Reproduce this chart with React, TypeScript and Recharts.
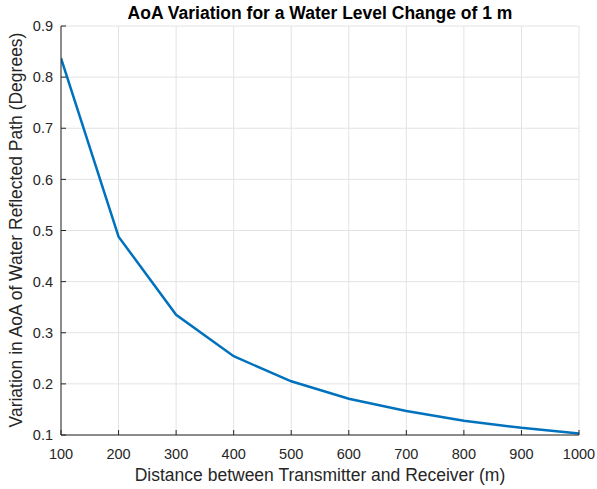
import React from "react";
import { LineChart, Line, XAxis, YAxis, CartesianGrid } from "recharts";

const distances = [100, 200, 300, 400, 500, 600, 700, 800, 900, 1000];
const aoaVariation = [0.837, 0.488, 0.335, 0.254, 0.205, 0.171, 0.147, 0.128, 0.114, 0.103];
const xTicks = [100, 200, 300, 400, 500, 600, 700, 800, 900, 1000];
const yTicks = [0.1, 0.2, 0.3, 0.4, 0.5, 0.6, 0.7, 0.8, 0.9];

const data = distances.map((d, i) => ({ d, v: aoaVariation[i] }));

const AX = "#262626";
const FONT = "'Liberation Sans', Arial, Helvetica, sans-serif";
const tickStyle = { fill: AX, fontSize: 14.5, fontFamily: FONT };

export default function App() {
  return (
    <div style={{ position: "absolute", left: 0, top: 0, width: 597, height: 489, background: "#fff", fontFamily: FONT }}>
      <LineChart width={597} height={489} data={data} margin={{ top: 26, right: 18, bottom: 24, left: 11 }}>
        <CartesianGrid stroke="#e3e3e3" strokeWidth={1} verticalValues={xTicks} horizontalValues={yTicks} />
        <XAxis
          dataKey="d"
          type="number"
          domain={[100, 1000]}
          ticks={xTicks}
          allowDataOverflow
          height={30}
          tickSize={-5}
          tickMargin={19}
          tick={tickStyle}
          axisLine={{ stroke: AX }}
          tickLine={{ stroke: AX }}
        />
        <XAxis
          xAxisId="top"
          orientation="top"
          dataKey="d"
          type="number"
          domain={[100, 1000]}
          ticks={xTicks}
          height={0}
          tickSize={-5}
          tick={() => <g />}
          axisLine={{ stroke: AX }}
          tickLine={{ stroke: AX }}
        />
        <YAxis
          type="number"
          domain={[0.1, 0.9]}
          ticks={yTicks}
          allowDataOverflow
          width={50}
          tickSize={-5}
          tickMargin={13}
          tick={tickStyle}
          tickFormatter={(v: number) => v.toFixed(1)}
          axisLine={{ stroke: AX }}
          tickLine={{ stroke: AX }}
        />
        <YAxis
          yAxisId="right"
          orientation="right"
          type="number"
          domain={[0.1, 0.9]}
          ticks={yTicks}
          width={0}
          tickSize={-5}
          tick={() => <g />}
          axisLine={{ stroke: AX }}
          tickLine={{ stroke: AX }}
        />
        <Line
          type="linear"
          dataKey="v"
          stroke="#0072BD"
          strokeWidth={2.5}
          dot={false}
          isAnimationActive={false}
        />
      </LineChart>
      <div
        style={{
          position: "absolute",
          left: 0,
          width: 640,
          top: 3,
          textAlign: "center",
          fontWeight: "bold",
          fontSize: 17.5,
          color: "#000",
          lineHeight: "20px",
          whiteSpace: "nowrap",
        }}
      >
        AoA Variation for a Water Level Change of 1 m
      </div>
      <div
        style={{
          position: "absolute",
          left: 0,
          width: 640,
          top: 465,
          textAlign: "center",
          fontSize: 17.5,
          color: AX,
          lineHeight: "20px",
          whiteSpace: "nowrap",
        }}
      >
        Distance between Transmitter and Receiver (m)
      </div>
      <div
        style={{
          position: "absolute",
          left: 15.5 - 250,
          width: 500,
          top: 230 - 10,
          textAlign: "center",
          fontSize: 17.5,
          color: AX,
          lineHeight: "20px",
          transform: "rotate(-90deg)",
          transformOrigin: "50% 50%",
          whiteSpace: "nowrap",
        }}
      >
        Variation in AoA of Water Reflected Path (Degrees)
      </div>
    </div>
  );
}
